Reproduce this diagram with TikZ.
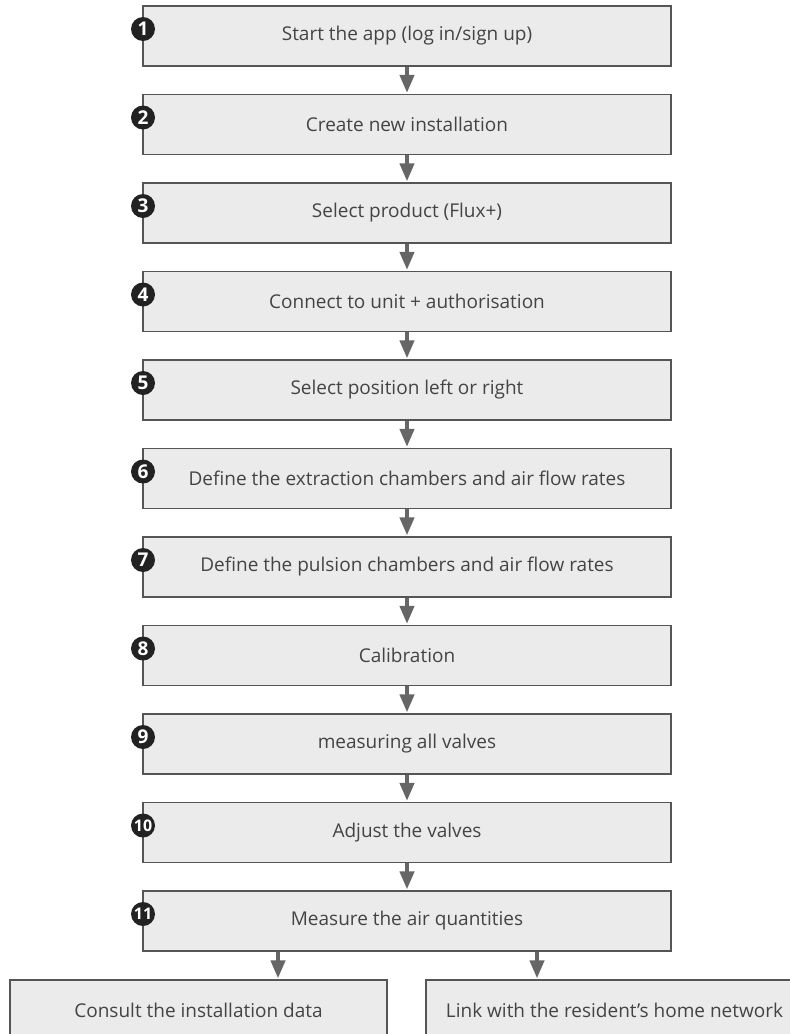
\documentclass[tikz,border=0pt]{standalone}
\usepackage{fontspec}
\setmainfont{Open Sans}
\usetikzlibrary{arrows.meta}
\definecolor{boxfill}{HTML}{EBEBEB}
\definecolor{boxline}{HTML}{555555}
\definecolor{txt}{HTML}{444444}
\definecolor{arr}{HTML}{666666}
\definecolor{badge}{HTML}{222222}
\tikzset{
  stepbox/.style={draw=boxline, fill=boxfill, line width=1.2pt, minimum width=528pt, minimum height=60pt, inner sep=0pt, text=txt, font=\fontsize{19}{23}\selectfont},
  endbox/.style={stepbox, minimum width=377pt},
  flow/.style={draw=arr, line width=4pt, -{Triangle[width=14pt,length=18pt]}, shorten >=1pt},
  numbadge/.style={circle, fill=badge, minimum size=24pt, inner sep=0pt, text=white, font=\fontsize{19}{19}\selectfont\bfseries},
  numbadgew/.style={numbadge, font=\fontsize{16}{16}\selectfont\bfseries},
}
\begin{document}
\begin{tikzpicture}[x=1pt,y=-1pt]
\useasboundingbox (0,0) rectangle (790,1034);
\clip (0,0) rectangle (790,1034);
\foreach \i/\t in {1/{Start the app (log in/sign up)},2/{Create new installation},3/{Select product (Flux+)},4/{Connect to unit + authorisation},5/{Select position left or right},6/{Define the extraction chambers and air flow rates},7/{Define the pulsion chambers and air flow rates},8/{Calibration},9/{measuring all valves}}{
  \node[stepbox] (s\i) at (407,{36+88.5*(\i-1)}) {\t};
  \node[numbadge] (b\i) at (143,{29+88.5*(\i-1)}) {\i};
}
\foreach \i/\t in {10/{Adjust the valves},11/{Measure the air quantities}}{
  \node[stepbox] (s\i) at (407,{36+88.5*(\i-1)}) {\t};
  \node[numbadgew] (b\i) at (143,{29+88.5*(\i-1)}) {\i};
}
\foreach \i [evaluate=\i as \j using int(\i+1)] in {1,...,10}{
  \draw[flow] (s\i.south) -- (s\j.north);
}
\node[endbox] (c1) at (198.5,1010) {Consult the installation data};
\node[endbox] (c2) at (614.5,1010) {Link with the resident’s home network};
\coordinate (a1) at (278,0);
\coordinate (a2) at (537,0);
\draw[flow] (s11.south -| a1) -- (c1.north -| a1);
\draw[flow] (s11.south -| a2) -- (c2.north -| a2);
\end{tikzpicture}
\end{document}
